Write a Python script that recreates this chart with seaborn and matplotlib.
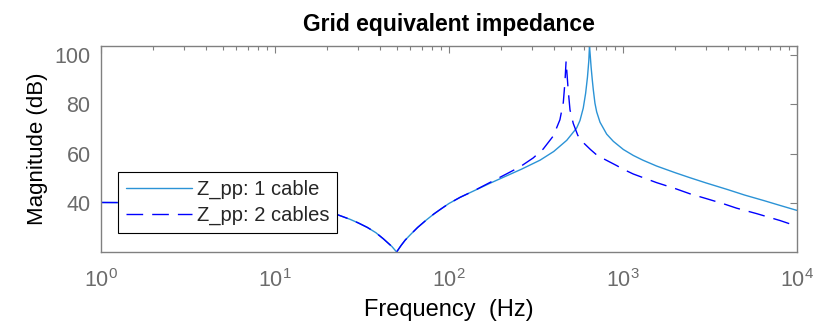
import matplotlib
matplotlib.use("Agg")
import matplotlib.pyplot as plt
import seaborn as sns
import pandas as pd
from matplotlib.ticker import LogLocator, NullFormatter

# Frequency response of the grid equivalent impedance (magnitude in dB)
freq_1cable = [1, 2, 4, 6, 10, 15, 20, 23, 27, 30, 34, 38, 42, 45, 47, 50,
               53, 56, 60, 66, 74, 82, 90, 100, 116, 138, 170, 215, 262,
               334, 400, 475, 542, 566, 591, 610, 625, 636, 642, 648, 656,
               666, 675, 690, 706, 738, 806, 880, 1005, 1146, 1300, 1563,
               2000, 2427, 3000, 4000, 5000, 6500, 8000, 10000]
mag_1cable = [40.4, 40.3, 40.0, 39.6, 38.7, 37.6, 36.4, 35.4, 33.6, 32.2,
              30.3, 28.2, 25.7, 23.8, 22.6, 20.4, 23.0, 25.2, 27.4, 30.3,
              33.3, 35.8, 37.8, 40.0, 42.5, 45.0, 48.0, 51.2, 53.9, 57.5,
              61.0, 65.5, 70.5, 73.5, 78.5, 84.5, 91.0, 97.5, 103.6, 100.0,
              95.0, 90.0, 86.0, 80.5, 77.0, 72.8, 68.0, 65.1, 61.8, 59.4,
              57.5, 55.1, 52.4, 50.4, 48.3, 45.6, 43.4, 41.1, 39.2, 37.2]

freq_2cables = [1, 2, 4, 6, 10, 15, 20, 23, 27, 30, 34, 38, 42, 45, 47, 50,
                53, 56, 60, 66, 74, 82, 90, 100, 116, 138, 170, 215, 256,
                305, 348, 398, 434, 454, 464, 468, 471, 476, 484, 496, 518,
                550, 591, 650, 706, 771, 920, 1005, 1146, 1563, 2000, 2427,
                3000, 3773, 4500, 5865, 8000, 10000]
mag_2cables = [40.4, 40.3, 40.0, 39.6, 38.7, 37.6, 36.4, 35.4, 33.6, 32.2,
               30.3, 28.2, 25.7, 23.8, 22.6, 20.4, 23.0, 25.2, 27.4, 30.3,
               33.3, 35.8, 37.8, 40.0, 42.5, 45.0, 48.3, 52.0, 54.8, 58.4,
               62.0, 67.3, 73.8, 80.8, 89.1, 94.0, 97.5, 93.0, 86.0, 77.8,
               72.3, 67.5, 64.6, 61.8, 59.6, 58.1, 55.3, 53.8, 51.9, 48.4,
               46.0, 43.9, 42.0, 39.9, 38.1, 35.9, 33.1, 30.8]

series_labels = ["Z_pp: 1 cable", "Z_pp: 2 cables"]

sns.set_style("white")
plt.rcParams["font.family"] = ["Liberation Sans", "DejaVu Sans"]
plt.rcParams["mathtext.fontset"] = "custom"
plt.rcParams["mathtext.rm"] = "Liberation Sans"
plt.rcParams["mathtext.it"] = "Liberation Sans:italic"

df1 = pd.DataFrame({"Frequency": freq_1cable, "Magnitude": mag_1cable})
df2 = pd.DataFrame({"Frequency": freq_2cables, "Magnitude": mag_2cables})

fig = plt.figure(figsize=(8.32, 3.25), dpi=100)
ax = fig.add_axes([0.1214, 0.2246, 0.8365, 0.6339])

dash_pattern = (12, 6.5)
sns.lineplot(data=df1, x="Frequency", y="Magnitude", ax=ax, color="#2b93d6",
             linewidth=1.0, label=series_labels[0], sort=False)
sns.lineplot(data=df2, x="Frequency", y="Magnitude", ax=ax, color="#0000ff",
             linewidth=1.0, label=series_labels[1], sort=False)
ax.lines[1].set_dashes(dash_pattern)

ax.set_xscale("log")
ax.set_xlim(1, 1e4)
ax.set_ylim(20.4, 103.6)
ax.set_yticks([40, 60, 80, 100])
ax.xaxis.set_major_locator(LogLocator(base=10, numticks=10))
ax.xaxis.set_minor_locator(LogLocator(base=10, subs=range(2, 10), numticks=50))
ax.xaxis.set_minor_formatter(NullFormatter())

spine_col = "#808080"
label_col = "#6b6b6b"
for s in ax.spines.values():
    s.set_color(spine_col)
    s.set_linewidth(1.0)
ax.tick_params(which="both", direction="in", top=True, right=True,
               colors=spine_col, labelcolor=label_col, labelsize=15.5)
ax.tick_params(which="major", length=5, width=0.8)
ax.tick_params(which="minor", length=2.8, width=0.8)
ax.tick_params(axis="x", which="major", pad=12)
ax.tick_params(axis="y", which="major", pad=7.5)

ax.set_xlabel("Frequency  (Hz)", fontsize=17, color="black", labelpad=5.5)
ax.set_ylabel("Magnitude (dB)", fontsize=16, color="black", labelpad=5)
ax.set_title("Grid equivalent impedance", fontsize=16.5, fontweight="bold",
             color="black", pad=11)

leg = ax.legend(loc="lower left", bbox_to_anchor=(0.024, 0.092),
                fontsize=14.5, frameon=True, fancybox=False, framealpha=1,
                edgecolor="black", handlelength=3.3, handletextpad=0.23,
                borderpad=0.4, labelspacing=0.32, borderaxespad=0)
leg.get_frame().set_linewidth(0.8)
leg.get_lines()[1].set_dashes(dash_pattern)

fig.savefig("out.png", dpi=100)
